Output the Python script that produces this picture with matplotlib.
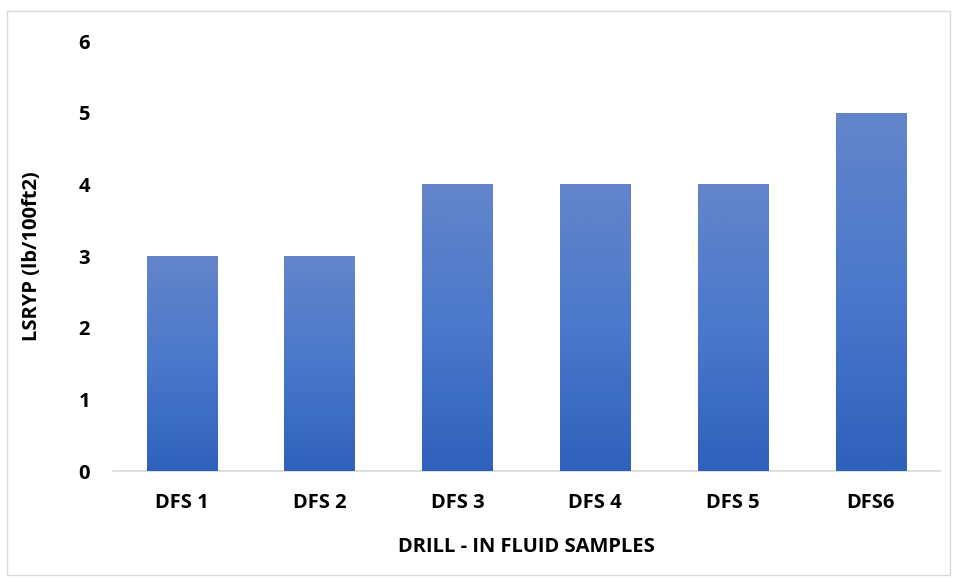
import numpy as np
import matplotlib.pyplot as plt
from matplotlib.colors import LinearSegmentedColormap
from matplotlib.patches import Rectangle

samples = ['DFS 1', 'DFS 2', 'DFS 3', 'DFS 4', 'DFS 5', 'DFS6']
lsryp = [3, 3, 4, 4, 4, 5]

plt.rcParams['font.family'] = ['Open Sans', 'DejaVu Sans']
plt.rcParams['font.weight'] = 'bold'

fig = plt.figure(figsize=(9.56, 5.79), dpi=100)
ax = fig.add_axes([0.118, 0.1865, 0.865, 0.7425])

# light frame around the whole chart
fig.patches.append(Rectangle((7 / 956, 4 / 579), 943 / 956, 564 / 579,
                             transform=fig.transFigure, fill=False,
                             edgecolor='#D9D9D9', linewidth=1))

bars = ax.bar(samples, lsryp, width=0.51, color='#4472C4', zorder=2)

# vertical blue gradient inside each bar
grad_cmap = LinearSegmentedColormap.from_list('bar_grad', ['#2F61BC', '#4A78CB', '#6485CB'])
grad = np.linspace(0, 1, 256).reshape(-1, 1)
for b in bars:
    x0, y0 = b.get_x(), b.get_y()
    im = ax.imshow(grad, cmap=grad_cmap, aspect='auto', origin='lower',
                   extent=[x0, x0 + b.get_width(), y0, y0 + b.get_height()],
                   zorder=3)
    im.set_clip_path(b)

ax.set_xlim(-0.5, len(samples) - 0.5)
ax.set_ylim(0, 6)
ax.set_yticks(range(0, 7))

for side in ['top', 'right', 'left']:
    ax.spines[side].set_visible(False)
ax.spines['bottom'].set_color('#D9D9D9')
ax.spines['bottom'].set_linewidth(1.2)

ax.tick_params(axis='both', length=0, labelsize=14.5, colors='black')
ax.tick_params(axis='y', pad=16.5)
ax.tick_params(axis='x', pad=16)

ax.set_xlabel('DRILL - IN FLUID SAMPLES', fontsize=14.5, fontweight='bold', labelpad=17)
ax.set_ylabel('LSRYP (lb/100ft2)', fontsize=14.5, fontweight='bold', labelpad=26)

fig.savefig('out.png', dpi=100)
